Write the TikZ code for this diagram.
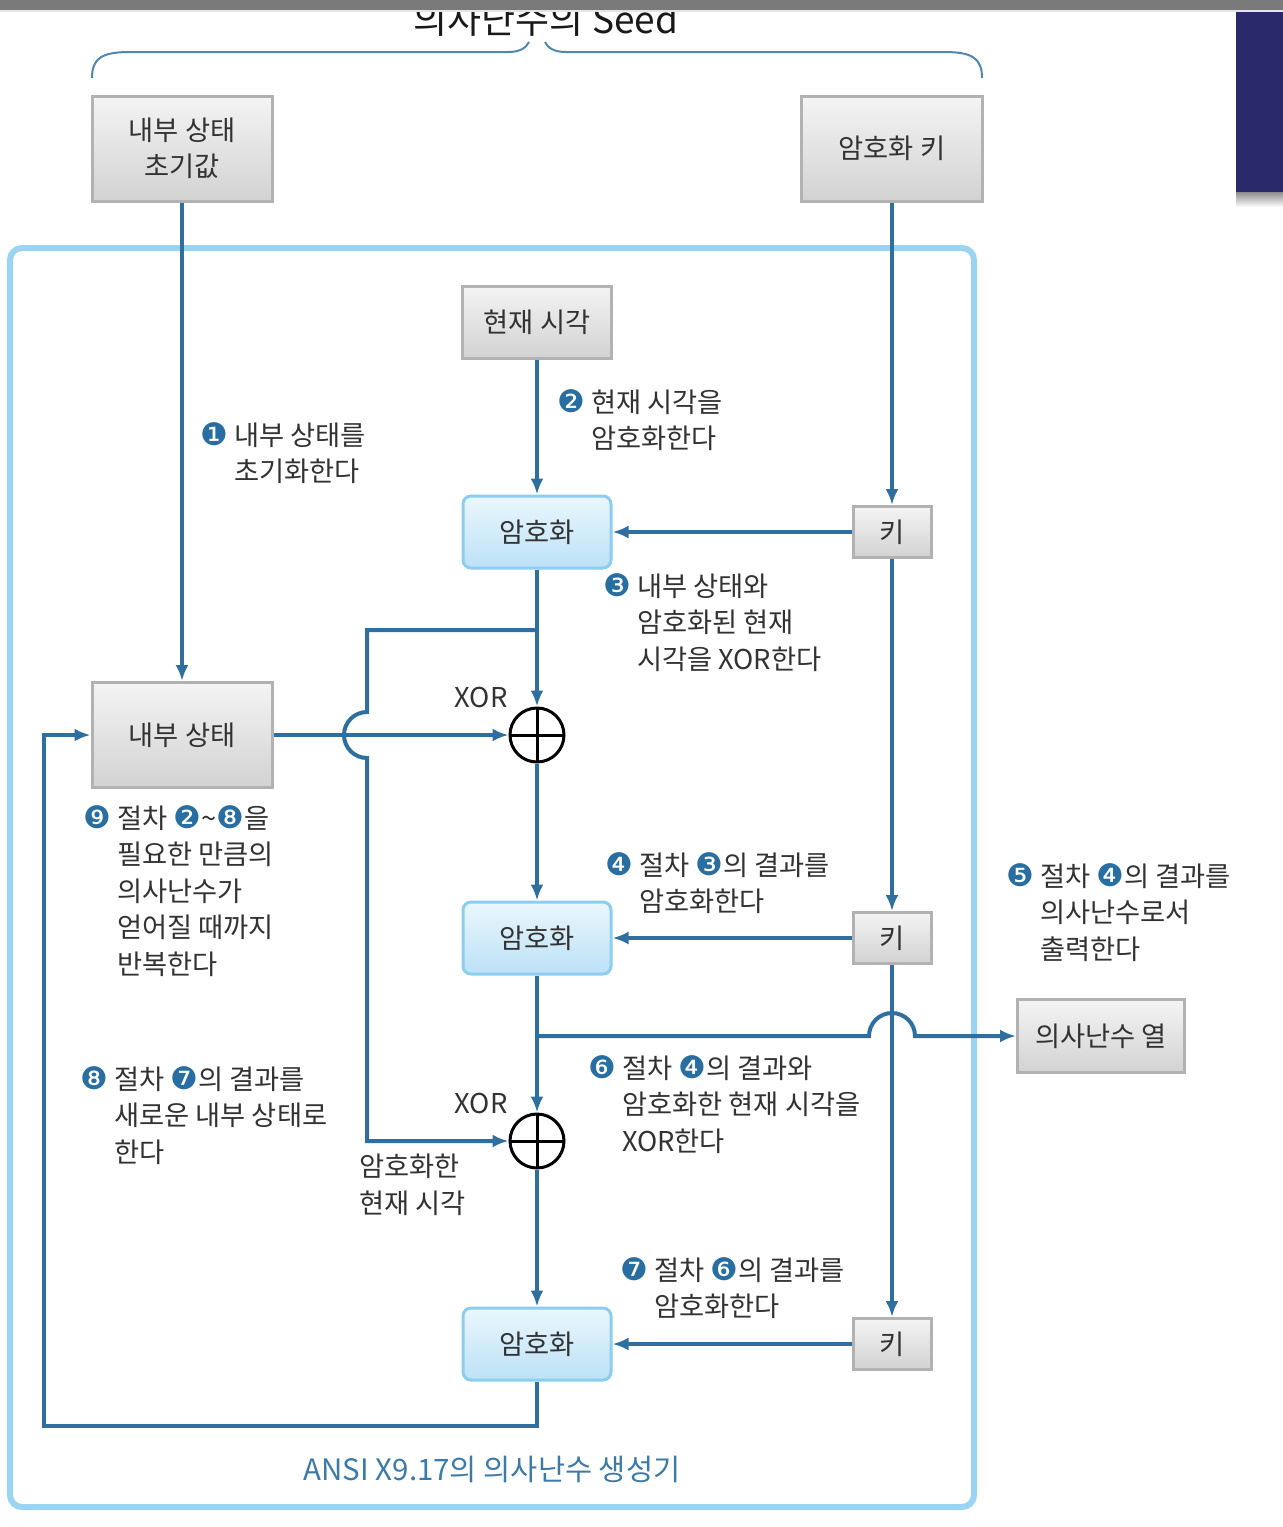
\documentclass[tikz,border=0pt]{standalone}
\usepackage{fontspec}
\usepackage{tikz}
\usetikzlibrary{arrows.meta}
\newfontfamily\kr{Noto Sans CJK KR}
\newfontfamily\symfont{DejaVu Sans}
\definecolor{flowblue}{RGB}{47,111,159}
\definecolor{stepblue}{RGB}{40,110,160}
\definecolor{framesky}{RGB}{155,212,242}
\definecolor{bracesteel}{RGB}{80,135,175}
\definecolor{inkgray}{RGB}{50,50,50}
\definecolor{boxedge}{RGB}{178,178,178}
\definecolor{boxtop}{RGB}{244,244,244}
\definecolor{boxbottom}{RGB}{210,210,210}
\definecolor{encedge}{RGB}{140,205,240}
\definecolor{enctop}{RGB}{234,247,253}
\definecolor{encbottom}{RGB}{188,225,246}
\definecolor{barnavy}{RGB}{42,42,106}
\definecolor{bargray}{RGB}{122,122,122}
\definecolor{captionblue}{RGB}{60,122,168}
\newcommand{\stepno}[1]{{\symfont\fontsize{31}{36.5}\selectfont\textcolor{stepblue}{#1}}}
\newcommand{\stepgap}{\phantom{\stepno{❶}\ }}
\tikzset{
    txt/.style={font=\kr\fontsize{27.3}{36.5}\selectfont, text=inkgray},
    graybox/.style={txt, draw=boxedge, line width=3pt, top color=boxtop, bottom color=boxbottom, align=center, inner sep=0pt},
    keybox/.style={graybox, minimum width=78pt, minimum height=51pt},
    encbox/.style={txt, draw=encedge, line width=3pt, rounded corners=8pt, top color=enctop, bottom color=encbottom,
                   minimum width=148pt, minimum height=72pt, inner sep=0pt},
    xorop/.style={circle, draw=black, line width=3pt, minimum size=54pt, inner sep=0pt,
                  path picture={\draw[black, line width=3pt] (path picture bounding box.north) -- (path picture bounding box.south)
                                                              (path picture bounding box.west)  -- (path picture bounding box.east);}},
    note/.style={txt, align=left, anchor=north west, inner sep=0pt},
    flow/.style={draw=flowblue, line width=4pt, -{Latex[length=16pt,width=13pt]}},
}
\begin{document}
\begin{tikzpicture}[x=1pt, y=1pt]
            \useasboundingbox (0,0) rectangle (1283,-1527);
            % Seed brace and title
            \node[font=\kr\fontsize{37}{40}\selectfont, text=black!90] (seedtitle) at (546,-20) {의사난수의 Seed};
            \draw[bracesteel, line width=2pt] (92,-78) .. controls (92,-58) and (102,-52) .. (130,-52) -- (508,-52)
                                               .. controls (520,-52) and (526,-48) .. (529,-42);
            \draw[bracesteel, line width=2pt] (982,-78) .. controls (982,-58) and (972,-52) .. (944,-52) -- (566,-52)
                                               .. controls (554,-52) and (548,-48) .. (545,-42);
            % Screen bars
            \fill[bargray]                 (0,0) rectangle (1283,-10);
            \fill[black!10]                (0,-10) rectangle (1283,-12);
            \fill[barnavy]                 (1236,-12) rectangle (1283,-192);
            \shade[top color=black!45, bottom color=white] (1236,-192) rectangle (1283,-207);
            % Generator frame
            \draw[framesky, line width=6pt, rounded corners=12pt] (10,-248) rectangle (974,-1507);
            \node[txt, text=captionblue, font=\kr\fontsize{29.5}{32}\selectfont] (caption) at (492,-1469) {ANSI X9.17의 의사난수 생성기};
            % Boxes
            \node[graybox, minimum width=180pt, minimum height=105pt] (seedstate) at (182,-148.5) {내부 상태\\초기값};
            \node[graybox, minimum width=181pt, minimum height=105pt] (seedkey)   at (892,-148.5) {암호화 키};
            \node[graybox, minimum width=149pt, minimum height=72pt]  (clock)     at (537,-322)   {현재 시각};
            \node[graybox, minimum width=180pt, minimum height=105pt] (state)     at (182,-735)   {내부 상태};
            \node[graybox, minimum width=167pt, minimum height=73pt]  (output)    at (1101,-1036) {의사난수 열};
            \node[encbox] (encA) at (537,-532) {암호화};
            \node[encbox] (encB) at (537,-938) {암호화};
            \node[encbox] (encC) at (537,-1344) {암호화};
            \node[keybox] (keyA) at (892,-532) {키};
            \node[keybox] (keyB) at (892,-938) {키};
            \node[keybox] (keyC) at (892,-1344) {키};
            \node[xorop]  (xorA) at (537,-735) {};
            \node[xorop]  (xorB) at (537,-1141) {};
            \node[txt] (xorlabA) at (481,-697)  {XOR};
            \node[txt] (xorlabB) at (481,-1103) {XOR};
            % Turning points
            \coordinate (splitA)  at (537,-630);
            \coordinate (cornerA) at (367,-630);
            \coordinate (hopAin)  at (367,-712);
            \coordinate (cornerB) at (367,-1141);
            \coordinate (splitB)  at (537,-1036);
            \coordinate (hopBin)  at (869,-1036);
            \coordinate (loopA)   at (537,-1426);
            \coordinate (loopB)   at (44,-1426);
            \coordinate (loopC)   at (44,-735);
            % Connectors
            \draw[flow] (seedstate) -- (state);
            \draw[flow] (seedkey) -- (keyA);
            \draw[flow] (clock) -- (encA);
            \draw[flow] (keyA) -- (encA);
            \draw[flow] (keyB) -- (encB);
            \draw[flow] (keyC) -- (encC);
            \draw[flow] (keyA) -- (keyB);
            \draw[flow] (keyB) -- (keyC);
            \draw[flow] (encA) -- (xorA);
            \draw[flow] (state) -- (xorA);
            \draw[flow] (xorA) -- (encB);
            \draw[flow] (encB) -- (xorB);
            \draw[flow] (xorB) -- (encC);
            \draw[flow] (splitA) -- (cornerA) -- (hopAin) arc[start angle=90, end angle=270, radius=23] -- (cornerB) -- (xorB);
            \draw[flow] (splitB) -- (hopBin) arc[start angle=180, end angle=0, radius=23] -- (output);
            \draw[flow] (encC) -- (loopA) -- (loopB) -- (loopC) -- (state);
            % Step notes
            \node[note] (noteA) at (200,-422)  {\stepno{❶} 내부 상태를\\\stepgap 초기화한다};
            \node[note] (noteB) at (557,-389)  {\stepno{❷} 현재 시각을\\\stepgap 암호화한다};
            \node[note] (noteC) at (603,-573)  {\stepno{❸} 내부 상태와\\\stepgap 암호화된 현재\\\stepgap 시각을 XOR한다};
            \node[note] (noteD) at (605,-852)  {\stepno{❹} 절차 \stepno{❸}의 결과를\\\stepgap 암호화한다};
            \node[note] (noteE) at (1006,-863) {\stepno{❺} 절차 \stepno{❹}의 결과를\\\stepgap 의사난수로서\\\stepgap 출력한다};
            \node[note] (noteF) at (588,-1055) {\stepno{❻} 절차 \stepno{❹}의 결과와\\\stepgap 암호화한 현재 시각을\\\stepgap XOR한다};
            \node[note] (noteG) at (620,-1257) {\stepno{❼} 절차 \stepno{❻}의 결과를\\\stepgap 암호화한다};
            \node[note] (noteH) at (80,-1066)  {\stepno{❽} 절차 \stepno{❼}의 결과를\\\stepgap 새로운 내부 상태로\\\stepgap 한다};
            \node[note] (noteI) at (83,-805)   {\stepno{❾} 절차 \stepno{❷}\textasciitilde\stepno{❽}을\\\stepgap 필요한 만큼의\\\stepgap 의사난수가\\\stepgap 얻어질 때까지\\\stepgap 반복한다};
            \node[note] (notecur) at (359,-1154) {암호화한\\현재 시각};
\end{tikzpicture}
\end{document}
